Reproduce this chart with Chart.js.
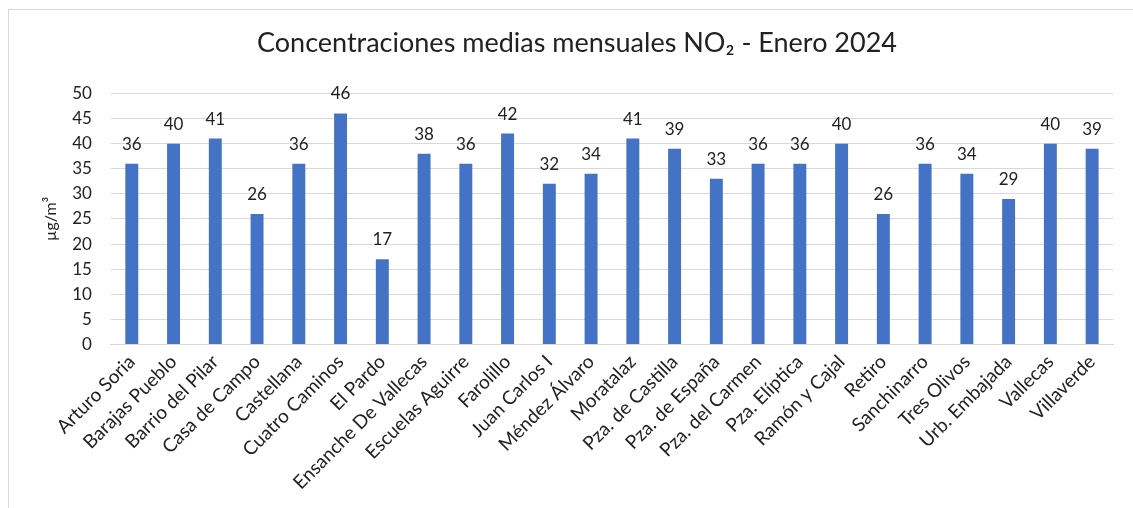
<!DOCTYPE html>
<html>
<head>
<meta charset="utf-8">
<script src="https://cdn.jsdelivr.net/npm/chart.js@4/dist/chart.umd.min.js"></script>
<style>
  html, body { margin: 0; padding: 0; background: #fff; }
  #wrap { position: relative; width: 1133px; height: 508px; overflow: hidden; }
  #frame { position: absolute; left: 8px; top: 9px; width: 1140px; height: 520px; border-left: 1px solid #d9d9d9; border-top: 1px solid #d9d9d9; pointer-events: none; }
  canvas { position: absolute; left: 0; top: 0; }
</style>
</head>
<body>
<div id="wrap">
  <canvas id="c" width="1133" height="508"></canvas>
  <div id="frame"></div>
</div>
<script>
const categories = ["Arturo Soria","Barajas Pueblo","Barrio del Pilar","Casa de Campo","Castellana","Cuatro Caminos","El Pardo","Ensanche De Vallecas","Escuelas Aguirre","Farolillo","Juan Carlos I","Méndez Álvaro","Moratalaz","Pza. de Castilla","Pza. de España","Pza. del Carmen","Pza. Elíptica","Ramón y Cajal","Retiro","Sanchinarro","Tres Olivos","Urb. Embajada","Vallecas","Villaverde"];
const no2Values = [36,40,41,26,36,46,17,38,36,42,32,34,41,39,33,36,36,40,26,36,34,29,40,39];
const yTicks = [0,5,10,15,20,25,30,35,40,45,50];

const labelPlugin = {
  id: 'barLabels',
  afterDatasetsDraw(chart) {
    const ctx = chart.ctx;
    const meta = chart.getDatasetMeta(0);
    ctx.save();
    ctx.font = '17px Lato';
    ctx.fillStyle = '#222';
    ctx.textAlign = 'center';
    ctx.textBaseline = 'alphabetic';
    meta.data.forEach((bar, i) => {
      ctx.fillText(String(Math.round(no2Values[i])), bar.x, bar.y - 14);
    });
    ctx.restore();
  }
};

new Chart(document.getElementById('c'), {
  type: 'bar',
  data: {
    labels: categories,
    datasets: [{
      data: no2Values,
      backgroundColor: '#4472C4',
      borderWidth: 0,
      barPercentage: 0.62,
      categoryPercentage: 0.5
    }]
  },
  options: {
    responsive: false,
    animation: false,
    layout: { padding: { left: 41, right: 20, top: 0, bottom: 8 } },
    plugins: {
      legend: { display: false },
      tooltip: { enabled: false },
      title: {
        display: true,
        text: 'Concentraciones medias mensuales NO₂ - Enero 2024',
        font: { family: 'Lato', size: 27, weight: 'normal' },
        color: '#222',
        padding: { top: 27, bottom: 34 }
      }
    },
    scales: {
      x: {
        grid: { display: false, drawTicks: false },
        border: { display: true, color: '#d9d9d9', width: 1 },
        afterFit(scale) { scale.paddingLeft = 0; scale.paddingRight = 0; },
        ticks: {
          minRotation: 45, maxRotation: 45, autoSkip: false,
          font: { family: 'Lato', size: 19 }, color: '#222', padding: 6
        }
      },
      y: {
        min: 0, max: 50,
        afterBuildTicks(axis) { axis.ticks = yTicks.map(v => ({ value: v })); },
        grid: { color: '#d9d9d9', lineWidth: 1, drawTicks: false },
        border: { display: false },
        ticks: { font: { family: 'Lato', size: 17 }, color: '#222', padding: 19 },
        title: {
          display: true, text: 'µg/m³',
          font: { family: 'Lato', size: 16 }, color: '#222', padding: { top: 0, bottom: -7 }
        }
      }
    }
  },
  plugins: [labelPlugin]
});
</script>
</body>
</html>
